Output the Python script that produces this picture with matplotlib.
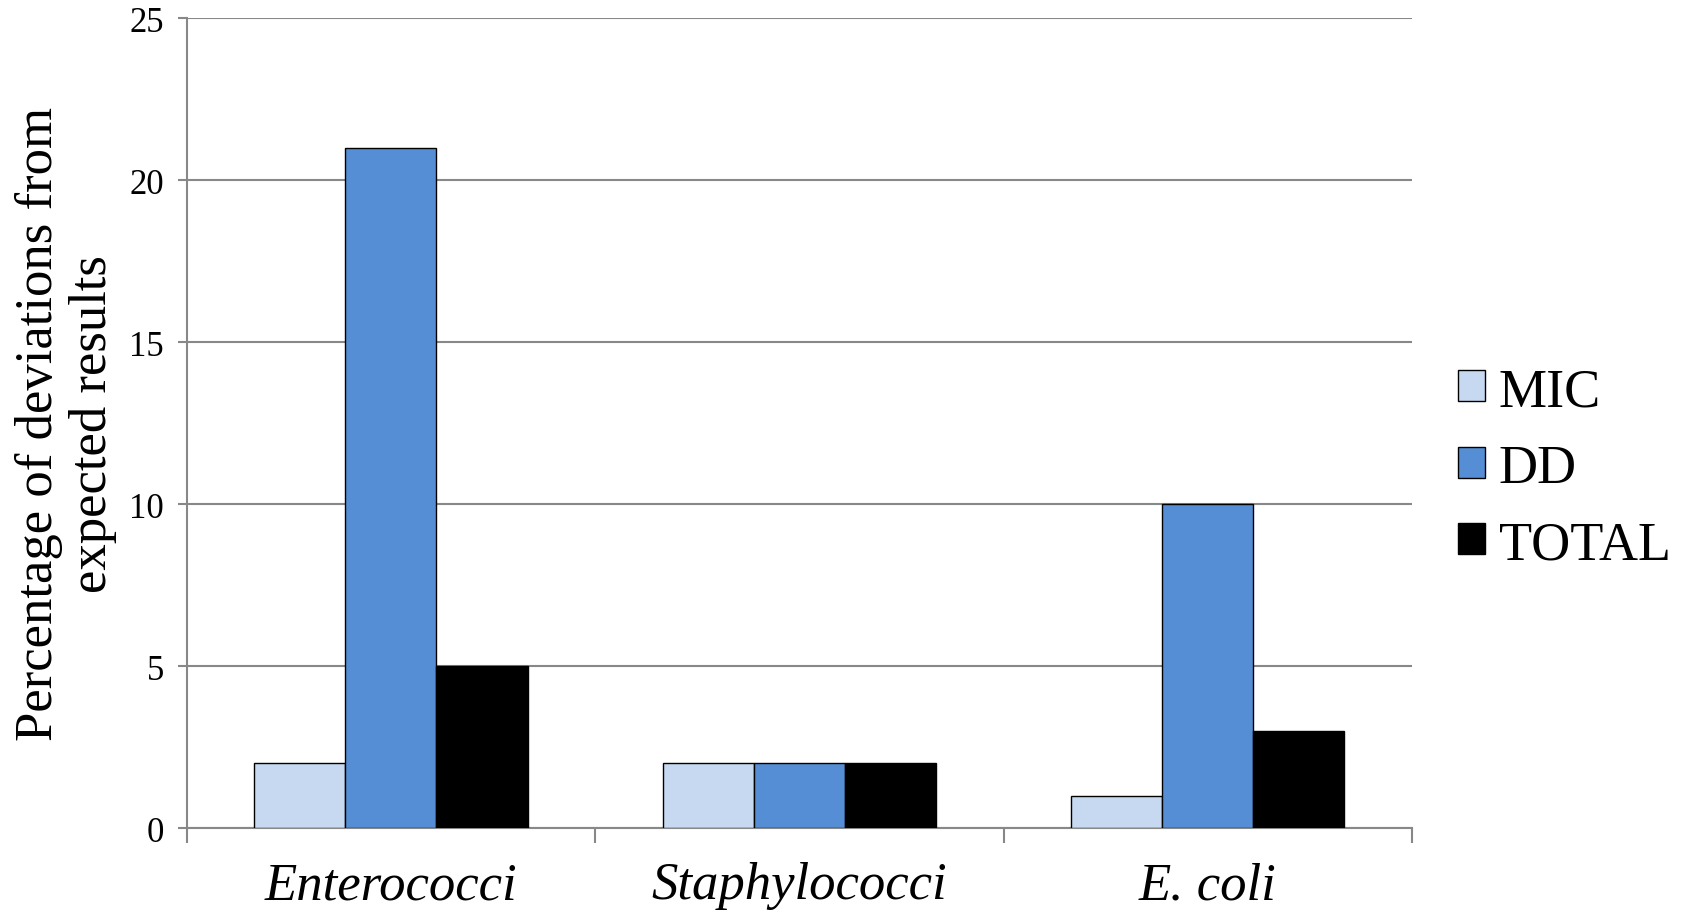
import matplotlib.pyplot as plt
import numpy as np

# Deviations from expected results by organism group
groups = ["Enterococci", "Staphylococci", "E. coli"]
mic = [2, 2, 1]
dd = [21, 2, 10]
total = [5, 2, 3]
series_names = ["MIC", "DD", "TOTAL"]
colors = ["#C6D9F1", "#558ED5", "#000000"]

plt.rcParams["font.family"] = ["Liberation Serif", "DejaVu Serif"]

fig = plt.figure(figsize=(16.82, 9.2), dpi=100)
ax = fig.add_axes([0.111, 0.0989, 0.7285, 0.8804])

x = np.arange(len(groups))
width = 0.223
for i, (vals, name, col) in enumerate(zip([mic, dd, total], series_names, colors)):
    ax.bar(x + (i - 1) * width, vals, width, label=name, color=col,
           edgecolor="black", linewidth=1.0, zorder=3)

ax.set_xlim(-0.5, len(groups) - 0.5)
ax.set_ylim(0, 25)
ax.set_yticks(np.arange(0, 26, 5))
ax.grid(axis="y", color="#888888", linewidth=1.5, zorder=0)

grey = "#888888"
for side in ["top", "right"]:
    ax.spines[side].set_visible(False)
for side in ["left", "bottom"]:
    ax.spines[side].set_color(grey)
    ax.spines[side].set_linewidth(1.5)

ax.set_xticks(x)
ax.set_xticklabels(groups, fontsize=38, style="italic")
ax.tick_params(axis="x", which="major", length=0, pad=24)
ax.set_xticks(np.arange(-0.5, len(groups)), minor=True)
ax.tick_params(axis="x", which="minor", length=11, width=1.5, color=grey)
ax.tick_params(axis="y", labelsize=25, length=6.5, width=1.5, color=grey, pad=10)

ax.set_ylabel("Percentage of deviations from\nexpected results", fontsize=38,
              linespacing=1.15, labelpad=9)

ax.legend(loc="center left", bbox_to_anchor=(1.0, 0.444), frameon=False,
          fontsize=39, handlelength=0.5, handleheight=0.5,
          handletextpad=0.25, labelspacing=0.48, borderaxespad=0.45)

plt.savefig("out.png", dpi=100)
